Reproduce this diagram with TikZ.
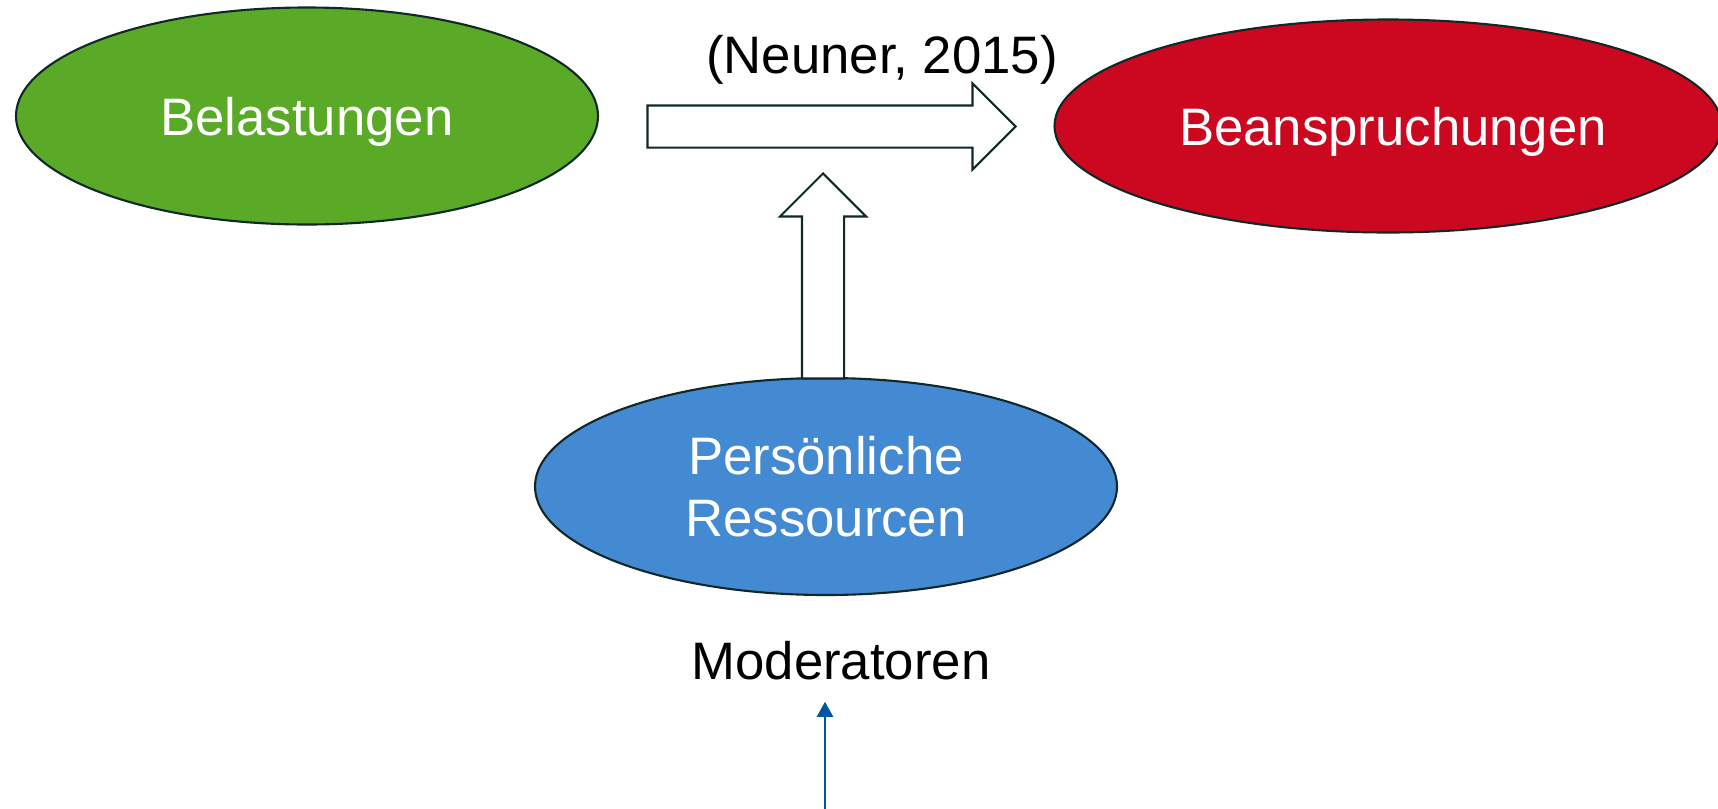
\documentclass[tikz,border=0pt]{standalone}
\usepackage{fontspec}
\setmainfont{Liberation Sans}
\usetikzlibrary{shapes.geometric, shapes.arrows, arrows.meta, positioning}
\definecolor{belgreen}{RGB}{90,170,40}
\definecolor{beanred}{RGB}{204,8,32}
\definecolor{resblue}{RGB}{67,138,210}
\definecolor{outline}{RGB}{16,40,40}
\definecolor{linkblue}{RGB}{0,84,164}
\tikzset{
	factor/.style={draw=outline, ellipse, line width=0.6pt, inner sep=0pt, text depth=0pt, text=white, align=center, font=\fontsize{15}{17.6}\selectfont},
	blockarrow/.style={draw=outline, fill=white, single arrow, line width=0.6pt, inner xsep=0pt, inner ysep=0.2cm, single arrow head extend=0.22cm, single arrow tip angle=90},
	label/.style={font=\fontsize{15}{17.6}\selectfont, text=black},
}

\begin{document}
\begin{tikzpicture}
	\useasboundingbox (0,0) rectangle (17.18,-8.08);
	
	\node (bel) [factor, fill=belgreen, minimum width=5.82cm, minimum height=2.17cm] at (3.07,-1.16) {Belastungen};
	\node (bean) [factor, fill=beanred, minimum width=6.67cm, minimum height=2.13cm] at (13.88,-1.26) {\hspace*{0.1cm}Beanspruchungen};
	\node (res) [factor, fill=resblue, minimum width=5.82cm, minimum height=2.17cm] at (8.26,-4.865) {Persönliche\\Ressourcen};
	
	\node (cite) [label] at (8.82,-0.60) {(Neuner, 2015)};
	\node (mod) [label] at (8.41,-6.61) {Moderatoren};
	
	% block arrows
	\node (effect) [blockarrow, minimum height=3.68cm, minimum width=0.84cm] at (8.21,-1.265) {};
	\node (buffer) [blockarrow, minimum height=2.05cm, minimum width=0.86cm, rotate=90] at (8.23,-2.865) {};
	
	\coordinate (feed) at (8.25,-8.10);
	\draw [linkblue, line width=0.65pt, -{Triangle[length=1.5mm, width=1.6mm]}, shorten >=0.09cm] (feed) -- (feed |- mod.south);
\end{tikzpicture}
\end{document}
